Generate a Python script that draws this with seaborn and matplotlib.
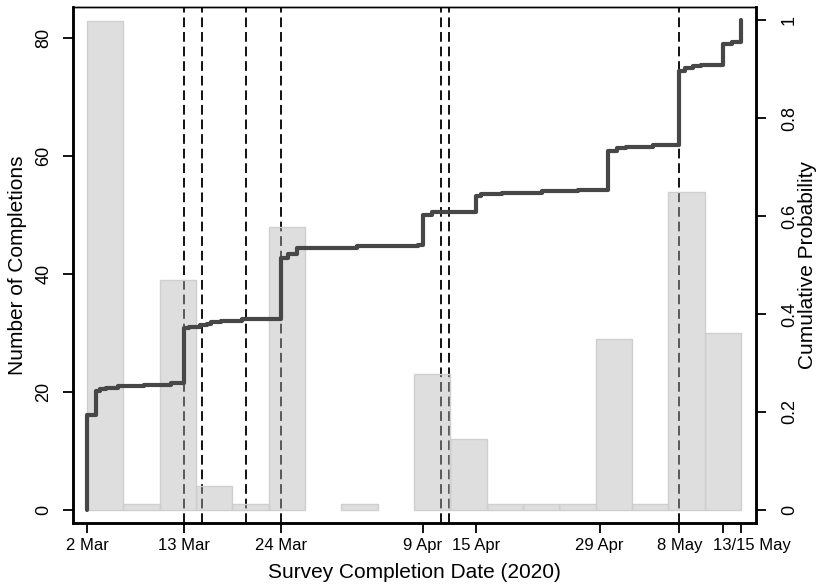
import seaborn as sns
import matplotlib.pyplot as plt
import pandas as pd

start = pd.Timestamp('2020-03-02')

# survey completions: days after 2 Mar 2020 and how many were finished then
completion_day = [0.0, 1.05, 1.5, 2.2, 3.5, 6.5, 9.5, 11.0, 11.5, 12.8, 13.6, 14.0,
                  15.2, 17.5, 22.0, 22.7, 23.8, 30.5, 37.5, 38.0, 39.0, 44.0, 44.6,
                  47.0, 51.5, 55.5, 58.9, 60.0, 61.0, 64.0, 67.0, 67.6, 68.5, 69.5,
                  72.0, 73.0, 74.0]
n_completed = [64, 16, 1, 1, 1, 1, 1, 37, 1, 1, 1, 1,
               1, 1, 41, 3, 4, 1, 1, 20, 2, 11, 1,
               1, 1, 1, 26, 2, 1, 1, 50, 2, 1, 1,
               14, 1, 15]

# dates marked with dashed lines
event_dates = ['2020-03-13', '2020-03-15', '2020-03-20', '2020-03-24',
               '2020-04-11', '2020-04-12', '2020-05-08']

tick_dates = ['2020-03-02', '2020-03-13', '2020-03-24', '2020-04-09', '2020-04-15',
              '2020-04-29', '2020-05-08', '2020-05-13', '2020-05-15']
tick_labels = ['2 Mar', '13 Mar', '24 Mar', '9 Apr', '15 Apr', '29 Apr', '8 May', '', '']
last_label = '13/15 May'

event_day = (pd.to_datetime(event_dates) - start).days
tick_day = (pd.to_datetime(tick_dates) - start).days

sns.set_theme(style='ticks', rc={'axes.edgecolor': 'black', 'text.color': 'black',
                                 'axes.labelcolor': 'black', 'xtick.color': 'black',
                                 'ytick.color': 'black'})
plt.rcParams['font.family'] = ['Liberation Sans', 'DejaVu Sans']

fig, ax = plt.subplots(figsize=(8.18, 5.84), dpi=100)
fig.subplots_adjust(left=0.0896, right=0.9242, bottom=0.104, top=0.9875)

for d in event_day:
    ax.axvline(d, color='#111111', lw=1.4, ls=(0, (5, 2.5)), zorder=1)

sns.histplot(x=completion_day, weights=n_completed, bins=18, binrange=(0, 74),
             facecolor=(0.71, 0.71, 0.71, 0.44), edgecolor='#cfcfcf', linewidth=1,
             ax=ax, zorder=2)
for p in ax.patches:
    if p.get_height() == 0:
        p.set_linewidth(0)

ax2 = ax.twinx()
sns.ecdfplot(x=completion_day, weights=n_completed, color='#474747', lw=3, ax=ax2)

ax.set_xlim(-1.55, 75.68)
ax.set_ylim(-2.26, 85.26)
ax2.set_ylim(-0.0271, 1.026)

ax.set_xticks(tick_day)
ax.set_xticklabels(tick_labels)
# shared label for the 13 and 15 May ticks
ax.annotate(last_label, xy=(tick_day[-1], 0), xycoords=('data', 'axes fraction'),
            xytext=(7.5, -10.5), textcoords='offset points', ha='center', va='top',
            fontsize=12)

ax.set_yticks([0, 20, 40, 60, 80])
ax2.set_yticks([0, 0.2, 0.4, 0.6, 0.8, 1])
ax2.set_yticklabels(['0', '0.2', '0.4', '0.6', '0.8', '1'])

for a in (ax, ax2):
    a.tick_params(direction='out', length=7, width=1.3, labelsize=12)
    for s in ('left', 'right', 'bottom'):
        a.spines[s].set_linewidth(1.8)
    a.spines['top'].set_linewidth(1.0)
ax.tick_params(axis='y', pad=8, labelsize=13)
ax2.tick_params(axis='y', pad=11, labelsize=13)
for t in ax.get_yticklabels() + ax2.get_yticklabels():
    t.set_rotation(90)
    t.set_va('center')

ax.set_xlabel('Survey Completion Date (2020)', fontsize=15, labelpad=7)
ax.set_ylabel('Number of Completions', fontsize=15, labelpad=6)
ax2.set_ylabel('Cumulative Probability', fontsize=15, labelpad=0)

fig.savefig('out.png', dpi=100)
